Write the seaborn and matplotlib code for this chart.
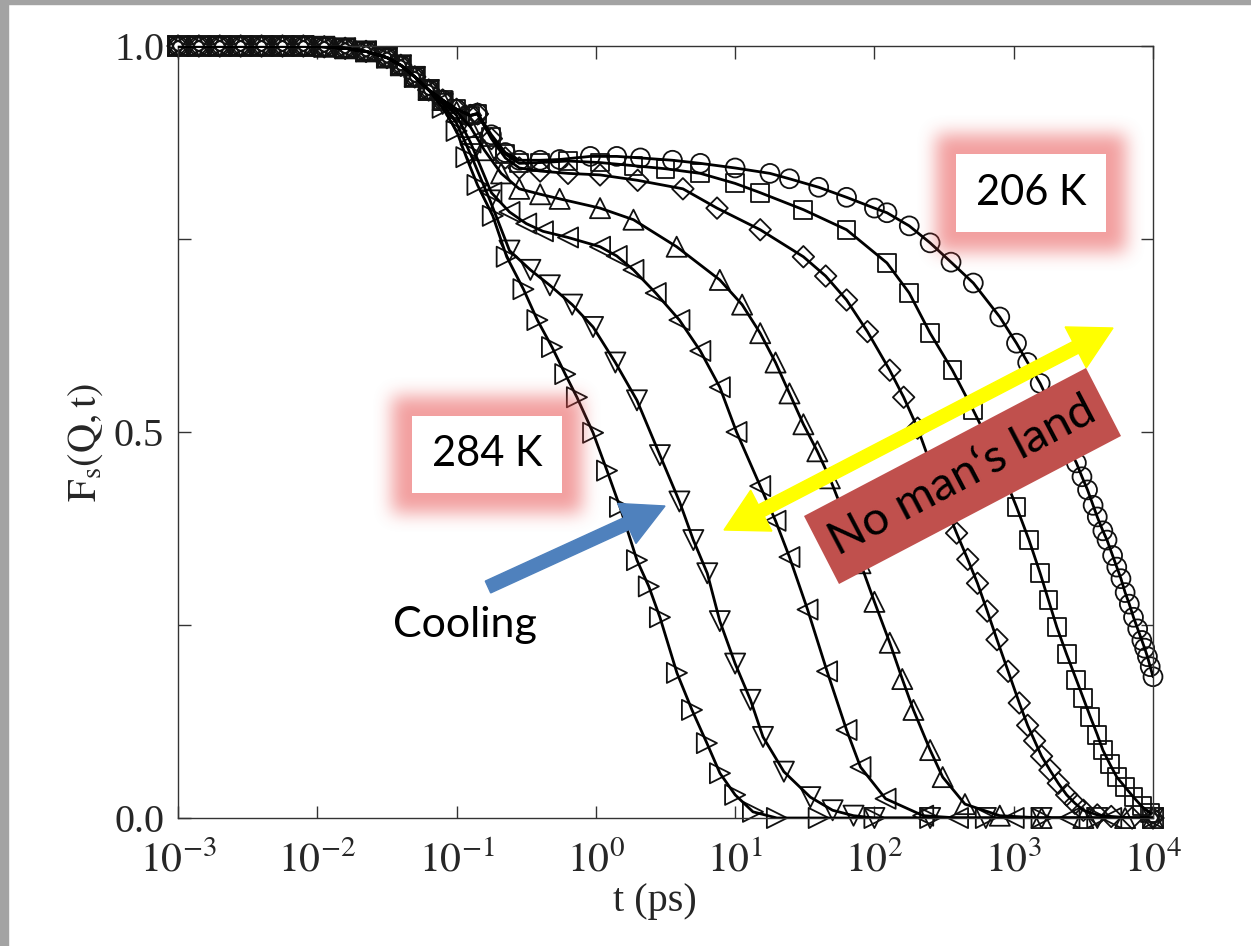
import numpy as np
import pandas as pd
import matplotlib
matplotlib.use("Agg")
import matplotlib.pyplot as plt
import seaborn as sns
from matplotlib.patches import Rectangle, Polygon, FancyArrow
from matplotlib.transforms import Affine2D
from matplotlib.ticker import NullLocator

# ---------------------------------------------------------------------------
# Self-intermediate scattering function F_s(Q,t) for several temperatures.
# Times are given as log10(t / ps).
# ---------------------------------------------------------------------------
log_t_early = [-3.0, -2.85, -2.7, -2.55, -2.4, -2.25, -2.1, -1.95, -1.8,
               -1.65, -1.5, -1.4, -1.3, -1.2]
fs_early = [1.0, 1.0, 1.0, 1.0, 1.0, 1.0, 1.0, 0.999, 0.997,
            0.993, 0.985, 0.975, 0.96, 0.943]

# 284 K
log_t_284 = [-1.1, -1.0, -0.93, -0.85, -0.74, -0.64, -0.52, -0.42, -0.315,
             -0.22, -0.136, -0.02, 0.08, 0.173, 0.295, 0.38, 0.46, 0.582,
             0.69, 0.797, 0.891, 1.0, 1.128, 1.3, 1.6, 2.0, 2.4, 2.8, 3.2,
             3.6, 4.0]
fs_284 = [0.92, 0.89, 0.856, 0.82, 0.78, 0.727, 0.685, 0.645, 0.61,
          0.575, 0.545, 0.499, 0.45, 0.403, 0.334, 0.30, 0.26, 0.188,
          0.14, 0.097, 0.058, 0.03, 0.008, 0.0, 0.0, 0.0, 0.0, 0.0, 0.0,
          0.0, 0.0]

# second temperature
log_t_b = [-1.1, -1.0, -0.9, -0.76, -0.62, -0.47, -0.33, -0.17, -0.02,
           0.14, 0.295, 0.46, 0.60, 0.70, 0.80, 0.89, 1.0, 1.11, 1.20, 1.35,
           1.54, 1.7, 1.85, 2.0, 2.4, 2.8, 3.2, 3.6, 4.0]
fs_b = [0.925, 0.90, 0.86, 0.80, 0.735, 0.71, 0.69, 0.665, 0.636,
        0.59, 0.541, 0.47, 0.41, 0.36, 0.317, 0.255, 0.20, 0.153, 0.105, 0.06,
        0.027, 0.01, 0.003, 0.0, 0.0, 0.0, 0.0, 0.0, 0.0]

# third temperature
log_t_c = [-1.1, -1.0, -0.9, -0.75, -0.62, -0.5, -0.38, -0.2, 0.03, 0.15,
           0.27, 0.43, 0.60, 0.75, 0.89, 1.01, 1.18, 1.29, 1.39, 1.52, 1.66,
           1.80, 1.90, 2.08, 2.35, 2.6, 3.0, 3.4, 3.7, 4.0]
fs_c = [0.928, 0.91, 0.875, 0.81, 0.785, 0.77, 0.76, 0.752, 0.74, 0.728,
        0.71, 0.68, 0.645, 0.605, 0.558, 0.50, 0.43, 0.385, 0.338, 0.27, 0.19,
        0.114, 0.066, 0.025, 0.003, 0.0, 0.0, 0.0, 0.0, 0.0]

# fourth temperature
log_t_d = [-1.1, -1.0, -0.9, -0.8, -0.68, -0.55, -0.4, -0.26, 0.03, 0.27,
           0.58, 0.89, 1.05, 1.18, 1.29, 1.39, 1.49, 1.59, 1.68, 1.80, 1.90,
           2.0, 2.11, 2.2, 2.28, 2.40, 2.49, 2.65, 2.9, 3.2, 3.5, 3.8, 4.0]
fs_d = [0.93, 0.915, 0.895, 0.865, 0.835, 0.815, 0.808, 0.802, 0.79, 0.775,
        0.74, 0.697, 0.665, 0.628, 0.59, 0.55, 0.51, 0.475, 0.44, 0.385, 0.33,
        0.28, 0.227, 0.18, 0.14, 0.088, 0.053, 0.018, 0.003, 0.0, 0.0, 0.0,
        0.0]

# fifth temperature
log_t_e = [-1.1, -1.0, -0.9, -0.85, -0.75, -0.65, -0.55, -0.4, -0.2, 0.03,
           0.3, 0.625, 0.87, 1.18, 1.49, 1.65, 1.80, 1.95, 2.11, 2.21, 2.31,
           2.45, 2.52, 2.59, 2.67, 2.74, 2.81, 2.88, 2.96, 3.04, 3.1, 3.15,
           3.2, 3.26, 3.32, 3.38, 3.44, 3.50, 3.6, 3.7, 3.85, 4.0]
fs_e = [0.93, 0.918, 0.91, 0.912, 0.88, 0.855, 0.842, 0.838, 0.835, 0.833,
        0.826, 0.815, 0.79, 0.762, 0.727, 0.702, 0.671, 0.63, 0.58, 0.545,
        0.505, 0.435, 0.40, 0.369, 0.335, 0.304, 0.268, 0.231, 0.19, 0.149,
        0.12, 0.10, 0.08, 0.062, 0.045, 0.03, 0.019, 0.01, 0.004, 0.002, 0.0,
        0.0]

# sixth temperature
log_t_f = [-1.1, -1.0, -0.9, -0.85, -0.75, -0.65, -0.55, -0.4, -0.2, 0.03,
           0.27, 0.5, 0.75, 1.0, 1.18, 1.49, 1.80, 2.09, 2.25, 2.40, 2.56,
           2.71, 2.87, 3.02, 3.11, 3.19, 3.25, 3.31, 3.38, 3.45, 3.50, 3.55,
           3.60, 3.64, 3.69, 3.74, 3.80, 3.86, 3.92, 3.98]
fs_f = [0.93, 0.918, 0.91, 0.912, 0.882, 0.86, 0.848, 0.849, 0.851, 0.849,
        0.845, 0.841, 0.835, 0.822, 0.81, 0.788, 0.762, 0.719, 0.68, 0.628,
        0.58, 0.528, 0.47, 0.403, 0.36, 0.317, 0.282, 0.247, 0.212, 0.179,
        0.155, 0.131, 0.108, 0.088, 0.07, 0.053, 0.04, 0.027, 0.015, 0.006]

# 206 K
log_t_206 = [-1.1, -1.0, -0.9, -0.85, -0.75, -0.65, -0.55, -0.4, -0.26,
             -0.04, 0.15, 0.32, 0.55, 0.75, 1.0, 1.25, 1.39, 1.6, 1.80, 2.0,
             2.09, 2.25, 2.40, 2.55, 2.71, 2.90, 3.02, 3.10, 3.19, 3.25, 3.32,
             3.38, 3.45, 3.49, 3.53, 3.57, 3.60, 3.64, 3.67, 3.71, 3.74, 3.77,
             3.80, 3.83, 3.86, 3.89, 3.92, 3.94, 3.96, 3.98, 4.0]
fs_206 = [0.93, 0.918, 0.91, 0.913, 0.885, 0.862, 0.852, 0.852, 0.853,
          0.857, 0.857, 0.855, 0.852, 0.848, 0.842, 0.835, 0.828, 0.817,
          0.804, 0.79, 0.784, 0.767, 0.745, 0.72, 0.693, 0.649, 0.615, 0.59,
          0.563, 0.54, 0.51, 0.485, 0.46, 0.442, 0.425, 0.405, 0.39, 0.372,
          0.36, 0.34, 0.325, 0.31, 0.292, 0.277, 0.26, 0.245, 0.23, 0.22,
          0.209, 0.196, 0.183]

series_names = ["284 K", "T2", "T3", "T4", "T5", "T6", "206 K"]
series_markers = [">", "v", "<", "^", "D", "s", "o"]
series_log_t = [log_t_284, log_t_b, log_t_c, log_t_d, log_t_e, log_t_f, log_t_206]
series_fs = [fs_284, fs_b, fs_c, fs_d, fs_e, fs_f, fs_206]

x_ticks_exp = [-3, -2, -1, 0, 1, 2, 3, 4]
y_ticks = [0.0, 0.25, 0.5, 0.75, 1.0]
y_tick_labels = ["0.0", "", "0.5", "", "1.0"]

# ---------------------------------------------------------------------------
sns.set_style("ticks")
plt.rcParams["font.family"] = ["Liberation Serif", "DejaVu Serif"]
plt.rcParams["mathtext.fontset"] = "stix"

W, H = 1251, 946
fig = plt.figure(figsize=(W / 100, H / 100), dpi=100)
fig.patch.set_facecolor("white")
ax = fig.add_axes([178 / W, 1 - 818 / H, 975 / W, 772 / H])
ax.set_facecolor("white")

marker_sizes = {">": 210, "v": 210, "<": 210, "^": 210, "D": 120, "s": 165, "o": 185}

for name, mk, lt, fs in zip(series_names, series_markers, series_log_t, series_fs):
    df = pd.DataFrame({"t": 10.0 ** np.array(log_t_early + lt),
                       "F": np.array(fs_early + fs)})
    sns.lineplot(data=df, x="t", y="F", ax=ax, color="black", lw=2.0,
                 estimator=None, sort=False, zorder=3)
    sns.scatterplot(data=df, x="t", y="F", ax=ax, marker=mk,
                    s=marker_sizes[mk], color="none", edgecolor="#111111",
                    linewidth=1.3, zorder=2, clip_on=False)

ax.set_xscale("log")
ax.set_xlim(1e-3, 1e4)
ax.set_ylim(0.0, 1.0)
ax.set_xticks([10.0 ** e for e in x_ticks_exp])
ax.set_xticklabels([rf"$10^{{{e}}}$" for e in x_ticks_exp])
ax.xaxis.set_minor_locator(NullLocator())
ax.set_yticks(y_ticks)
ax.set_yticklabels(y_tick_labels)

ax.tick_params(axis="both", direction="in", length=9, width=1.0,
               color="#333333", top=True, right=True)
ax.tick_params(axis="x", labelsize=30, pad=17)
ax.tick_params(axis="y", labelsize=29, pad=10)
for sp in ax.spines.values():
    sp.set_color("#333333")
    sp.set_linewidth(1.0)

ax.set_xlabel("t (ps)", fontsize=29)
ax.xaxis.label.set_va("center")
ax.xaxis.set_label_coords(0.489, -0.108)
ax.set_ylabel(r"$\mathrm{F_s(Q,t)}$", fontsize=29)
ax.yaxis.label.set_va("center")
ax.yaxis.set_label_coords(-0.095, 0.486)

# ---------------------------------------------------------------------------
# Annotation layer, in pixel coordinates measured from the top-left corner
pix = Affine2D().scale(1, -1).translate(0, H)

# grey frame strips
fig.add_artist(Rectangle((0, 0), 8, H, transform=pix, color="#a3a3a3", zorder=10))
fig.add_artist(Rectangle((0, 0), W, 4, transform=pix, color="#a3a3a3", zorder=10))


def glow(w, h, spread=20, blur=17, margin=60):
    hh, ww = h + 2 * margin, w + 2 * margin
    m = np.zeros((hh, ww))
    m[margin - spread:margin + h + spread, margin - spread:margin + w + spread] = 1.0
    k = np.ones(blur) / blur
    for _ in range(3):
        m = np.apply_along_axis(lambda r: np.convolve(r, k, mode="same"), 1, m)
        m = np.apply_along_axis(lambda c: np.convolve(c, k, mode="same"), 0, m)
    img = np.zeros((hh, ww, 4))
    img[..., 0] = 232 / 255
    img[..., 1] = 80 / 255
    img[..., 2] = 80 / 255
    img[..., 3] = 0.55 * np.clip(m, 0, 1)
    return img, margin


def temp_label(x0, y0, x1, y1, text):
    img, mg = glow(x1 - x0, y1 - y0)
    fi = fig.figimage(img, xo=x0 - mg, yo=H - (y1 + mg), origin="upper")
    fi.set_zorder(5)
    fig.add_artist(Rectangle((x0, y0), x1 - x0, y1 - y0, transform=pix,
                             facecolor="white", edgecolor="none", zorder=6))
    fig.text((x0 + x1) / 2 / W, 1 - (y0 + y1) / 2 / H, text, ha="center",
             va="center", fontsize=30, family=["Lato", "DejaVu Sans"],
             color="black", zorder=7)


temp_label(956, 154, 1106, 232, "206 K")
temp_label(412, 416, 562, 493, "284 K")

# cooling arrow
tail, tip = (488, 587), (665, 506)
fig.add_artist(FancyArrow(tail[0], tail[1], tip[0] - tail[0], tip[1] - tail[1],
                          width=13, head_width=44, head_length=42,
                          length_includes_head=True, transform=pix,
                          color="#4f81bd", zorder=8))
fig.text(465 / W, 1 - 625 / H, "Cooling", ha="center", va="center",
         fontsize=31, family=["Lato", "DejaVu Sans"], color="black", zorder=8)

# two-headed yellow arrow
a, b = (724, 530), (1113, 328)
mid = ((a[0] + b[0]) / 2, (a[1] + b[1]) / 2)
for end in (a, b):
    fig.add_artist(FancyArrow(mid[0], mid[1], end[0] - mid[0], end[1] - mid[1],
                              width=13, head_width=46, head_length=42,
                              length_includes_head=True, transform=pix,
                              color="#ffff00", zorder=8))

# rotated banner
corners = [(804, 516), (1086, 368), (1121, 436), (839, 584)]
fig.add_artist(Polygon(corners, closed=True, transform=pix,
                       facecolor="#c0504d", edgecolor="none", zorder=8))
cx = sum(c[0] for c in corners) / 4
cy = sum(c[1] for c in corners) / 4
ang = np.degrees(np.arctan2(corners[0][1] - corners[1][1], corners[1][0] - corners[0][0]))
fig.text(cx / W, 1 - cy / H, "No man\u2018s land", ha="center", va="center",
         rotation=ang, rotation_mode="anchor", fontsize=34,
         family=["Lato", "DejaVu Sans"], color="black", zorder=9)

fig.savefig("out.png", dpi=100, facecolor="white")
